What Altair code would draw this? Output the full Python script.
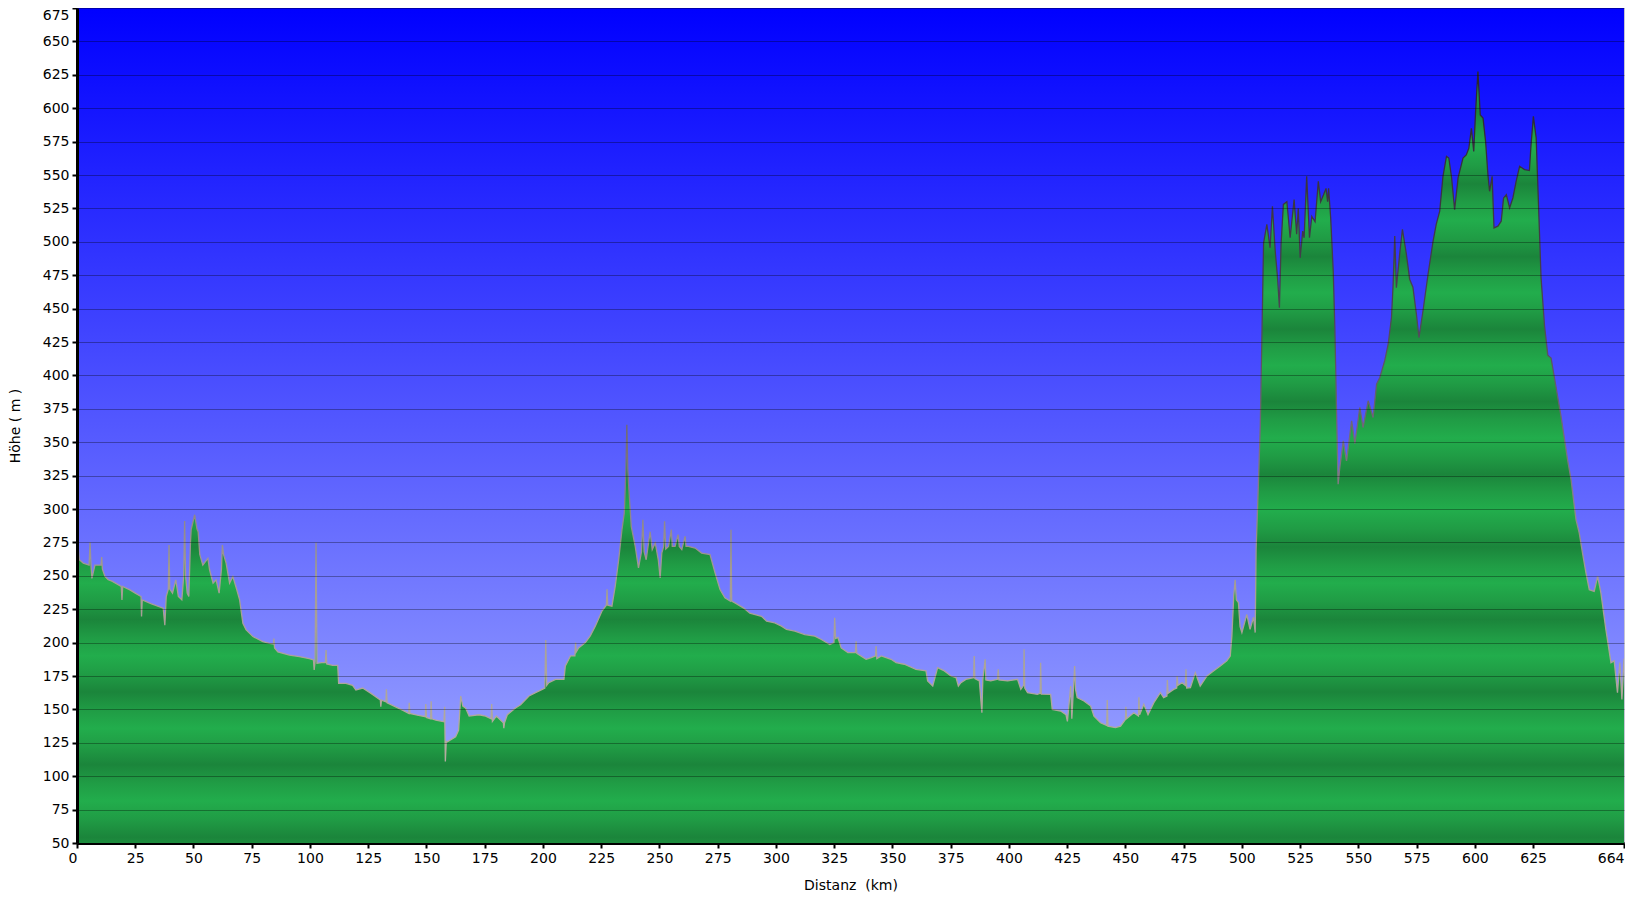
import altair as alt
import pandas as pd

km = [
    0, 0.5, 1, 2.7, 5.2, 5.6, 6.0, 6.4, 7.7, 10.3, 10.6, 10.9, 12, 13.4, 15, 19, 19.3, 19.6,
    22.7, 25, 27.5, 27.7, 28, 32, 37, 37.7, 38.3, 39.2, 39.5, 39.8, 41, 42.4, 43.5, 45, 45.8,
    46.2, 46.6, 47.3, 48, 48.7, 49, 50.5, 51.5, 52, 52.7, 54, 56.2, 56.9, 58.4, 59.7, 61, 62,
    62.4, 62.9, 64, 65.5, 66.9, 68.4, 69.8, 71.2, 72.6, 75.5, 79.8, 82.6, 84.3, 84.5, 84.8,
    86.2, 91.2, 95.5, 99.7, 101.5, 101.8, 102.2, 102.6, 103, 105, 106.6, 106.9, 107.2, 109.7,
    111.9, 112.3, 115.4, 118.3, 119.7, 122.6, 126.2, 130.2, 130.4, 130.7, 132.6, 132.8, 133.1,
    139.7, 142.4, 142.6, 142.9, 146.1, 149.5, 149.7, 150, 151.8, 152, 152.3, 154, 157.5, 157.8,
    158.1, 158.5, 159, 162.5, 163.8, 164.7, 165.6, 166.8,
    168.3, 172.5, 175.4, 177.7, 178, 178.3, 180, 183, 183.2, 183.5, 184.7, 188.2, 190.4, 194,
    196.8, 199.7, 200.8, 201.2, 201.6, 202.5, 205.4, 209, 209.6, 211.8, 213.7, 214, 214.3,
    215.3, 218.2, 220.3, 222.5, 225.3, 227.2, 227.5, 227.8, 229.6, 231, 232.5, 233.9, 234.9,
    235.6, 236, 236.4, 236.8, 237.9, 239.6, 241, 242.3, 242.9, 243.4, 244.3, 246, 246.9, 248.2,
    249.5, 250.3, 251, 251.8, 252.2, 252.7, 253.9, 255.1, 255.5, 256.7, 258, 258.5, 259.6, 261,
    261.4, 262.4, 265.3, 268.1, 271.7, 273.9, 276, 278.1, 280.4, 280.7, 281, 282.4, 286, 288.8,
    293.8, 296, 299.5, 302.4, 304.5, 308.1, 312.4, 316.7, 319.5, 323.1, 324.9, 325.2, 325.6,
    326.6, 328, 330.9,
    334.1, 334.4, 334.7, 338.7, 340.9, 342.7, 343, 343.3, 345.2, 349.4, 351.6, 355.1, 360.1,
    364.4, 365.1, 367.3, 369.4, 372.3, 375.1, 377.3, 378.3, 379.4, 381.5, 384.8, 385.1, 385.4,
    387.3, 388.4, 388.8, 389.8, 390.1, 392.2, 395.1, 395.4, 395.7, 399.4, 403.7, 405.1, 406.3,
    406.5, 406.8, 408, 412.2, 413.4, 413.6, 413.9, 417.9, 418.6, 422.2, 424.5, 425.1, 425.6,
    426.5, 427, 428.2, 428.6, 429.3, 432.2, 435.1, 436.5, 439.3, 442, 442.2, 442.5, 445.7,
    447.9, 450, 450.2, 450.5, 453.6, 455.6, 455.8, 456.1, 457.9, 459.7, 462.2, 465, 466.4,
    467.8, 468, 468.3, 470.7, 472, 472.2, 472.5, 474.3, 475.7, 476, 476.3, 477.9, 480, 482.1,
    485, 487.8, 490.7, 493.5, 495, 495.7, 496.5, 497.1, 497.6, 498.5, 499.2, 500, 502.1, 503.5,
    505, 505.7, 506.1, 507.1, 507.9, 509.3,
    510.7, 512.1, 513.1, 514.3, 515.3, 516.1, 516.8, 517.8, 519.3, 520.7, 522.4, 523.5, 524.2,
    525, 526.1, 526.7, 527.8, 529, 530, 531.4, 532.8, 533.8, 535, 536.1, 536.8, 537.2, 538.1,
    539.2, 539.9, 540.7, 541.3, 542, 543.5, 544.9, 547.1, 548.5, 550.6, 552, 554.2, 556.3,
    557.8, 559.2, 561.3, 562.8, 564.2, 564.9, 565.6, 566.3, 567.7, 568.9, 570.6, 572, 573.4,
    574.9, 576, 577.7, 579.9, 582, 583.4, 584.9, 586.3, 587.8, 588.8, 590, 591.3, 592.8, 594.9,
    596.3, 597.4, 598.5, 599.5, 600.3, 601.3, 602.3, 603.5, 604.6, 605.6, 606.3, 607.4, 608.2,
    609.9, 611.3, 612.3, 613.5, 614.9, 616.3, 617.7, 619.2, 621.3, 623.4, 624.1, 625.1, 626.3,
    627.4, 628.4, 629.9, 631.3, 632.7, 634.8, 637, 639.8, 641.3, 643.4, 644.8, 646.2, 647.7,
    649.1, 651.2, 652.7, 654.1, 656.2, 658.4, 659.8, 661.2, 662.2, 663.1, 664,
]
elev = [
    268, 272, 262, 259.5, 258, 275, 258, 248, 258, 258, 264, 255, 249.5, 247, 246, 242, 232, 242,
    239.5, 237, 234.5, 219.5, 232, 229, 225.7, 213, 234.5, 240, 273, 240, 237, 247, 234.5, 232, 250,
    291, 250, 237, 234.5, 275, 284.5, 295.7, 285, 283, 266, 258, 263, 254.5, 244.5, 247, 237, 255,
    273, 266, 259.5, 244.5, 249.5, 240.7, 232, 214.5, 209.5, 204.5, 200.7, 199.5, 199, 203, 196,
    193, 190.7, 189.5, 188, 187, 179.5, 186, 275, 184.5, 185, 185, 194.5, 184, 183,
    183, 169.5, 169.5, 168, 164.5, 166, 162, 157, 152, 157, 155.7, 165, 155,
    149.5, 147, 155, 147, 145.7, 144.5, 154, 144, 143, 156, 143, 142, 140.7, 152,
    111, 126, 125.7, 129.5, 134.5, 160, 152.5, 151,
    145, 146, 145, 143, 154, 141, 145, 140, 136, 140, 146, 151, 153.5, 160,
    162.5, 165, 166, 202, 168, 170, 172.5, 172.5, 182.5, 190, 190, 200, 193,
    196, 200, 205, 212.5, 223.5, 228, 240, 228, 227.3, 242, 262, 284.5, 297,
    329, 363, 330, 317, 287, 272, 256, 268, 292, 268, 262, 283, 269.6, 274.6,
    262, 248.4, 267, 272, 290.8, 270, 272, 284.5, 272, 272, 280.8, 272, 269.6, 279.5,
    272, 272, 270.8, 267, 265.9, 252, 239.7, 233.5, 231, 284.5, 231, 229.7, 226, 222,
    219.7, 216, 214.8, 212.3, 209.8, 208.6, 206, 204.8, 202.3, 198.6, 200, 218.5, 203,
    203.8, 196, 192.5,
    192.5, 201, 192, 187.5, 188.8, 190, 197.5, 188, 190, 187.5, 185, 183.8, 180,
    178.8, 171.3, 167.5, 181.3, 178.8, 175, 173.8, 167.5, 170, 172.5, 173.8, 190, 173,
    171.3, 147.5, 172.5, 187.5, 172, 171.3, 172.5, 180, 172, 171.3, 172.5, 165, 168,
    195, 166, 162.5, 161.3, 162, 185, 161.5, 161.3, 150, 148.8, 146, 141, 150,
    167.5, 143, 182.5, 165, 158.8, 156.3, 152.5, 145, 140, 138, 157, 137.5, 136.3,
    137.5, 142.5, 152, 143, 147.5, 145, 159, 146, 153.8, 146, 155, 162.5, 158.8,
    160, 172, 162, 165, 166, 175, 168, 170, 168, 180, 166, 166.3, 177.5, 167.5,
    175, 178.8, 182.5, 186.3, 190, 205, 235, 247, 232, 230, 212, 207.5, 221, 210,
    219, 207.5, 270, 320, 363, 499,
    513, 495.5, 526.6, 493, 473, 450.6, 498, 528, 530, 503, 531.6, 505.6, 525,
    488, 508, 503, 549, 503, 519, 515, 545.3, 530, 535, 540, 530, 540, 518,
    478, 435, 366, 318.6, 331, 351, 336, 366, 349, 376, 361, 381, 368.5,
    393.4, 398.4, 411, 423.5, 443.3, 468, 504.4, 465.7, 490.6, 509.4, 490.6, 472, 466,
    445.8, 428.3, 448, 475.7, 500, 513, 523, 549, 564, 562.7, 548, 524, 548, 562.7,
    565, 570, 585, 567.7, 597.6, 627.5, 595, 592.6, 575, 550, 537.8, 549, 510.4,
    511.7, 515.4, 532.8, 535.3, 525.3, 532.8, 545.3, 556.5, 554, 553.3, 572.7, 593.9, 577.7,
    522.9, 473, 437, 415, 413, 391.5, 369, 336.7, 321.8, 292, 282, 267, 252,
    239.6, 238.4, 249.6, 237, 210, 185, 186.3, 162.5, 185, 157.5, 188,
]

x_ticks = [0, 25, 50, 75, 100, 125, 150, 175, 200, 225, 250, 275, 300, 325, 350, 375,
           400, 425, 450, 475, 500, 525, 550, 575, 600, 625, 664]
y_ticks = list(range(50, 676, 25))

x_title = "Distanz\u00a0\u00a0(km)"
y_title = "Höhe ( m )"

df = pd.DataFrame({"km": km, "elev": elev})

FONT = "DejaVu Sans"
Y_MIN, Y_MAX = 50, 675

# --- banded green fill: dark at multiples of 50 m, light at odd multiples of 25 m
top = max(elev)
dark, mid, light = "#1b853b", "#209c45", "#22ad4c"
stops = []
v = 50.0
while v <= top:
    phase = v % 50
    if phase == 0:
        c = dark
    elif phase == 25:
        c = light
    else:
        c = mid
    stops.append(((top - v) / (top - Y_MIN), c))
    v += 12.5
stops.append((0.0, light))
stops = sorted(stops)
green = alt.LinearGradient(
    gradient="linear", x1=0, x2=0, y1=0, y2=1,
    stops=[alt.GradientStop(offset=o, color=c) for o, c in stops],
)

# --- edge line: dark on the high parts, light grey on the low parts
low = min(elev)
def off(val):
    return (top - val) / (top - low)
edge = alt.LinearGradient(
    gradient="linear", x1=0, x2=0, y1=0, y2=1,
    stops=[
        alt.GradientStop(offset=0, color="#2a2430"),
        alt.GradientStop(offset=off(450), color="#4a4452"),
        alt.GradientStop(offset=off(330), color="#7e7680"),
        alt.GradientStop(offset=off(250), color="#a49c94"),
        alt.GradientStop(offset=1, color="#b4aca0"),
    ],
)

sky = alt.LinearGradient(
    gradient="linear", x1=0, x2=0, y1=0, y2=1,
    stops=[
        alt.GradientStop(offset=0, color="#0000ff"),
        alt.GradientStop(offset=1, color="#a6b0ff"),
    ],
)

x_enc = alt.X(
    "km:Q",
    scale=alt.Scale(domain=[0, 664], nice=False, zero=False),
    axis=alt.Axis(
        values=x_ticks, title=x_title, grid=False, labelOverlap=False,
        labelAlign={"condition": {"test": "datum.value == 664 || datum.value == 0", "value": "right"},
                    "value": "center"},
        tickColor="black", tickWidth=2, tickSize=5, domainColor="black", domainWidth=3,
        labelPadding=3, titlePadding=13, labelFontSize=14, titleFontSize=14,
        labelFont=FONT, titleFont=FONT, titleFontWeight="normal",
        labelColor="black", titleColor="black",
    ),
)
y_enc = alt.Y(
    "elev:Q",
    scale=alt.Scale(domain=[Y_MIN, Y_MAX], nice=False, zero=False),
    axis=alt.Axis(
        values=y_ticks, title=y_title, grid=True, gridColor="black", gridOpacity=0.32,
        gridWidth=1, zindex=1, labelOverlap=False,
        labelBaseline={"condition": {"test": "datum.value == 675", "value": "top"},
                       "value": "middle"},
        tickColor="black", tickWidth=2, tickSize=5, domainColor="black", domainWidth=3,
        labelPadding=3, titlePadding=20, labelFontSize=14, titleFontSize=14,
        labelFont=FONT, titleFont=FONT, titleFontWeight="normal",
        labelColor="black", titleColor="black",
    ),
)

background = alt.Chart(pd.DataFrame({"bg": [0]})).mark_rect(fill=sky).encode(
    x=alt.value(0), x2=alt.value("width"), y=alt.value(0), y2=alt.value("height")
)
area = alt.Chart(df).mark_area(color=green, clip=True, interpolate="linear").encode(x=x_enc, y=y_enc)
line = alt.Chart(df).mark_line(stroke=edge, strokeWidth=1.3, clip=True).encode(x=x_enc, y=y_enc)

chart = (
    alt.layer(background, area, line)
    .properties(
        width=1547, height=835,
        autosize=alt.AutoSizeParams(type="none"),
        padding={"left": 69, "top": 0, "right": 1, "bottom": 52},
        background="white",
    )
    .configure_view(stroke="#c4c4d4", strokeWidth=1)
)

chart.save("out.html", embed_options={"renderer": "svg", "actions": False})
